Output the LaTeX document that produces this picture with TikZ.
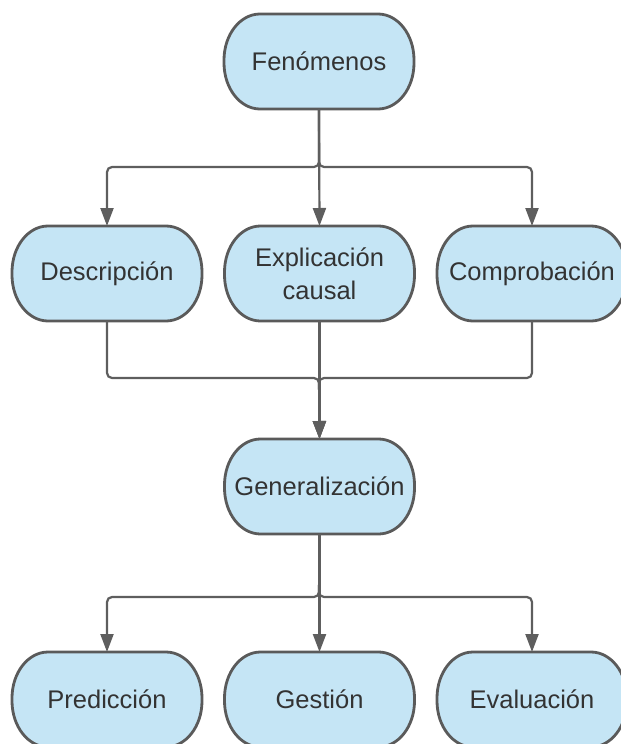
\documentclass[tikz,border=0pt]{standalone}
\usepackage{fontspec}
\setmainfont{Liberation Sans}
\usetikzlibrary{arrows.meta,backgrounds}
\definecolor{boxfill}{HTML}{C5E5F5}
\definecolor{boxline}{HTML}{5A5A5A}
\definecolor{connline}{HTML}{5E5E5E}
\definecolor{txt}{HTML}{333333}
\newcommand{\termshape}[1]{%
  \draw[termline] ([xshift=36bp]#1.north west) -- ([xshift=-36bp]#1.north east)
    arc[start angle=90,end angle=0,x radius=36bp,y radius=46bp]
    -- ([yshift=46bp]#1.south east)
    arc[start angle=0,end angle=-90,x radius=36bp,y radius=46bp]
    -- ([xshift=36bp]#1.south west)
    arc[start angle=270,end angle=180,x radius=36bp,y radius=46bp]
    -- ([yshift=-46bp]#1.north west)
    arc[start angle=180,end angle=90,x radius=36bp,y radius=46bp]
    -- cycle;}
\tikzset{
  termbox/.style={shape=rectangle, draw=none, minimum width=190bp, minimum height=95bp,
    inner sep=0pt, outer sep=0pt, align=center, text=txt,
    font=\fontsize{25.5bp}{33bp}\selectfont},
  termline/.style={draw=boxline, fill=boxfill, line width=2.8bp},
  conn/.style={draw=connline, line width=2.2bp, rounded corners=5bp},
  arr/.style={-{Triangle[width=13bp,length=18bp]}}
}
\begin{document}
\begin{tikzpicture}[x=1bp,y=-1bp]
\useasboundingbox (0,0) rectangle (621,744);
\node[termbox] (fen) at (319,61.5) {Fenómenos};
\node[termbox] (desc) at (107,273.5) {Descripción};
\node[termbox] (expl) at (319.5,273.5) {Explicación\\causal};
\node[termbox] (comp) at (532,273.5) {Comprobación};
\node[termbox] (gen) at (319.5,486.5) {Generalización};
\node[termbox] (pred) at (107,699.5) {Predicción};
\node[termbox] (gest) at (319.5,699.5) {Gestión};
\node[termbox] (eval) at (532,699.5) {Evaluación};
\begin{scope}[on background layer]
\foreach \n in {fen,desc,expl,comp,gen,pred,gest,eval}{\termshape{\n}}
\end{scope}
\coordinate (j1) at (319,167);
\coordinate (j2) at (319,378);
\coordinate (j3) at (319,597);
\draw[conn,arr] (fen.south) -- (j1) -| (desc.north);
\draw[conn,arr] (fen.south) -- (j1) -| (comp.north);
\draw[conn,arr] (fen.south) -- (expl.north);
\draw[conn,arr] (desc.south) |- (j2) -- (gen.north);
\draw[conn,arr] (comp.south) |- (j2) -- (gen.north);
\draw[conn,arr] (expl.south) -- (gen.north);
\draw[conn,arr] (gen.south) -- (j3) -| (pred.north);
\draw[conn,arr] (gen.south) -- (j3) -| (eval.north);
\draw[conn,arr] (gen.south) -- (gest.north);
\end{tikzpicture}
\end{document}
